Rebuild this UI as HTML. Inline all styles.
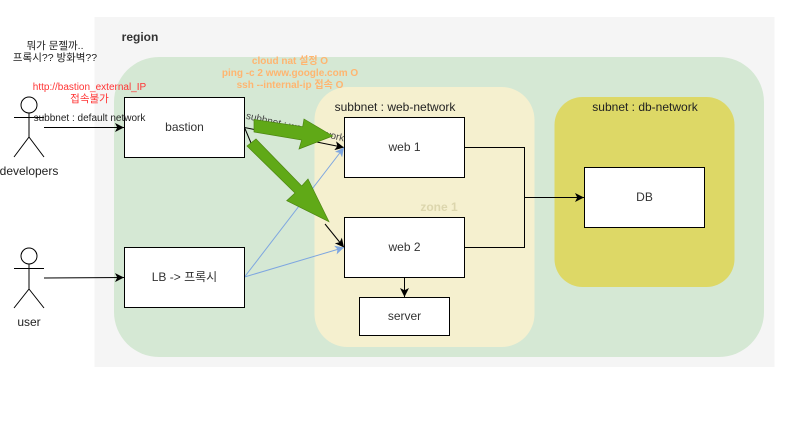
<!DOCTYPE html>
<html lang="ko">
<head>
<meta charset="utf-8">
<title>diagram</title>
<style>
html,body{margin:0;padding:0;background:#fff;width:797px;height:431px;overflow:hidden}
svg{display:block}
text{font-family:"Liberation Sans","Noto Sans CJK KR",Helvetica,sans-serif;text-anchor:middle}
</style>
</head>
<body>
<svg width="797" height="431" viewBox="0 0 797 431" xmlns="http://www.w3.org/2000/svg">
<defs>
<marker id="a" viewBox="0 0 8 8" refX="8" refY="4" markerWidth="9" markerHeight="9" markerUnits="userSpaceOnUse" orient="auto"><path d="M0 0L8 4L0 8L2 4Z" fill="#000"/></marker>
<marker id="b" viewBox="0 0 8 8" refX="8" refY="4" markerWidth="9" markerHeight="9" markerUnits="userSpaceOnUse" orient="auto"><path d="M0 0L8 4L0 8L2 4Z" fill="#7ea6e0"/></marker>
</defs>

<rect x="94.5" y="17" width="680" height="350" fill="#f5f5f5"/>
<rect x="114" y="57" width="650" height="300" rx="45" fill="#d5e8d4"/>
<rect x="314.5" y="87" width="220" height="260" rx="33" fill="#f5f0cf"/>
<rect x="554.5" y="97" width="180" height="190" rx="28" fill="#ddd866"/>

<text x="140" y="41" font-size="12" font-weight="bold" fill="#333">region</text>
<text x="395" y="111" font-size="12" fill="#222">subbnet : web-network</text>
<text x="645" y="111" font-size="12" fill="#222">subnet : db-network</text>
<text x="439" y="211" font-size="12" font-weight="bold" fill="#dcd6ad">zone 1</text>

<text x="55" y="49" font-size="10.500" fill="#222">뭐가 문젤까..</text>
<text x="55" y="61" font-size="10.500" fill="#222">프록시?? 방화벽??</text>
<text x="89.500" y="90" font-size="10" fill="#ff3333">http://bastion_external_IP</text>
<text x="89.500" y="102" font-size="10.500" fill="#ff3333">접속불가</text>
<text x="290" y="64" font-size="10" font-weight="bold" fill="#ffb570">cloud nat 설정 O</text>
<text x="290" y="76" font-size="10" font-weight="bold" fill="#ffb570">ping -c 2 www.google.com O</text>
<text x="290" y="88" font-size="10" font-weight="bold" fill="#ffb570">ssh --internal-ip 접속 O</text>

<g fill="none" stroke="#000" stroke-width="1">
<circle cx="29" cy="105" r="8"/>
<path d="M29 113V137M14 117.500H44M29 137L14 157M29 137L44 157"/>
<circle cx="29" cy="256" r="8"/>
<path d="M29 264V289M14 268.500H44M29 289L14 308M29 289L44 308"/>
</g>
<text x="29" y="175" font-size="12" fill="#222">developers</text>
<text x="29" y="326" font-size="12" fill="#222">user</text>

<g fill="none" stroke-width="1">
<path d="M44 127.500H124" stroke="#000" marker-end="url(#a)"/>
<path d="M44 278L124 277.500" stroke="#000" marker-end="url(#a)"/>
<path d="M244.500 127.500L344 147.500" stroke="#000" marker-end="url(#a)"/>
<path d="M244.500 127.500L251 143" stroke="#000"/>
<path d="M325 224L344 247.500" stroke="#000" marker-end="url(#a)"/>
<path d="M244.500 277L344 147.500" stroke="#7ea6e0" marker-end="url(#b)"/>
<path d="M244.500 277L344 247.500" stroke="#7ea6e0" marker-end="url(#b)"/>
<path d="M464.500 147.500H524.500V247.500H464.500" stroke="#000"/>
<path d="M524.500 197.500H584" stroke="#000" marker-end="url(#a)"/>
<path d="M404.500 277.500V297" stroke="#000" marker-end="url(#a)"/>
</g>

<g fill="#fff" stroke="#000" stroke-width="1">
<rect x="124.500" y="97.500" width="120" height="60"/>
<rect x="124.500" y="247.500" width="120" height="60"/>
<rect x="344.500" y="117.500" width="120" height="60"/>
<rect x="344.500" y="217.500" width="120" height="60"/>
<rect x="359.500" y="297.500" width="90" height="38"/>
<rect x="584.500" y="167.500" width="120" height="60"/>
</g>
<g font-size="12" fill="#333">
<text x="184.500" y="131">bastion</text>
<text x="184.500" y="281">LB -&gt; 프록시</text>
<text x="404.500" y="151">web 1</text>
<text x="404.500" y="251">web 2</text>
<text x="404.500" y="320">server</text>
<text x="644.500" y="201">DB</text>
</g>

<text x="89.500" y="121" font-size="10" fill="#222">subbnet : default network</text>
<text transform="translate(294.500 130) rotate(13)" font-size="10" fill="#444">subbnet : web-network</text>

<g fill="#60a917" stroke="#4d8612" stroke-width="0.700">
<polygon points="254,119.500 254,132 301.700,140 299,149 332.700,136 304,119 302.700,126.700"/>
<polygon points="247,146 256,139 301.700,186 308,179 329,221.700 286.700,200.700 295,193"/>
</g>
</svg>
</body>
</html>
